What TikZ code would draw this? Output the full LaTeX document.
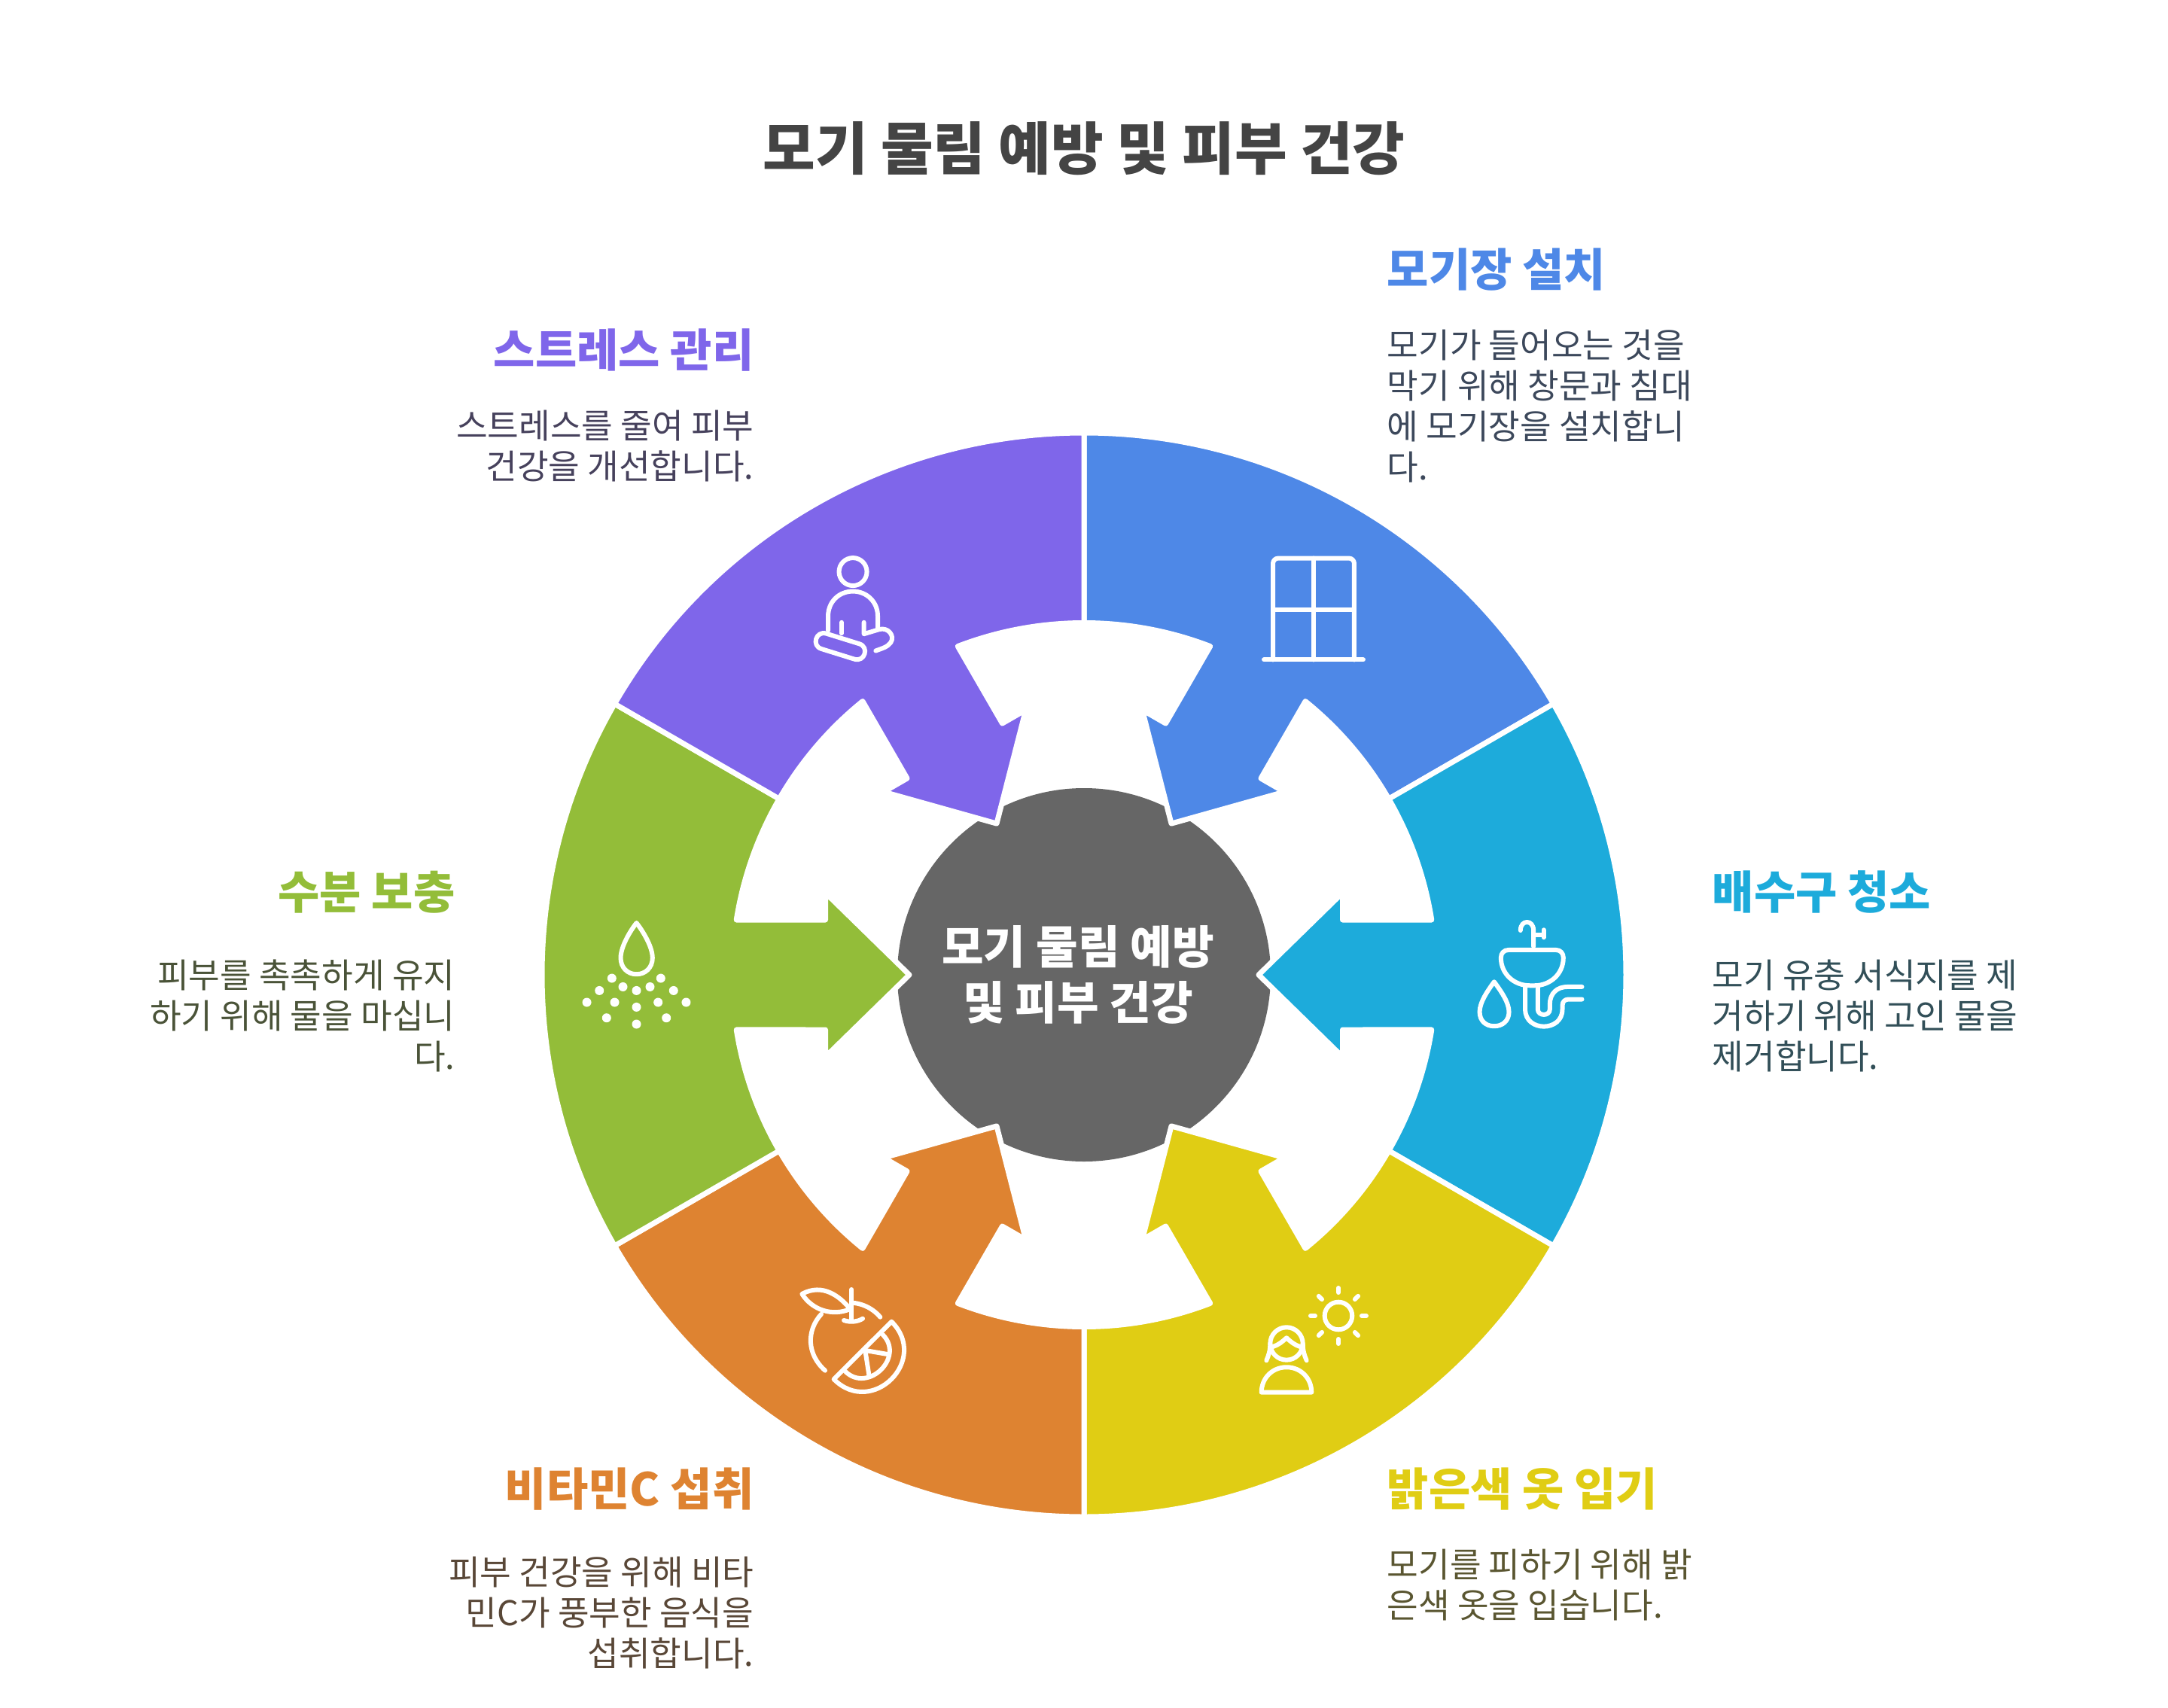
\documentclass[tikz,border=0pt]{standalone}
\usepackage{fontspec}
\setmainfont{Noto Sans CJK KR}
\usetikzlibrary{positioning}
\definecolor{cblue}{HTML}{4E88E7}
\definecolor{ccyan}{HTML}{1DABDB}
\definecolor{cyellow}{HTML}{E0CD14}
\definecolor{corange}{HTML}{DE8331}
\definecolor{cgreen}{HTML}{93BD39}
\definecolor{cpurple}{HTML}{7F66EA}
\definecolor{ctitle}{HTML}{444444}
\definecolor{chub}{HTML}{666666}
\definecolor{ctext}{HTML}{383838}
\tikzstyle{ringpart}=[draw=white,line width=0.07cm,line join=round]
\tikzstyle{icon}=[draw=white,line width=0.06cm,line cap=round,line join=round]
\tikzstyle{head}=[font=\fontsize{17.1pt}{20pt}\selectfont\bfseries,inner sep=0pt]
\tikzstyle{desc}=[font=\fontsize{12.88pt}{15.36pt}\selectfont,inner sep=0pt]
\newcommand{\ringarrow}[2]{
  \draw[ringpart,fill=#2,rotate=#1] (30:7.2) arc[start angle=30,end angle=-30,radius=7.2]
    -- (-30:4.675) arc[start angle=-30,end angle=-8.98,radius=4.675]
    -- (3.435,-0.73) -- (3.435,-1.09) -- (2.32,0) -- (3.435,1.09) -- (3.435,0.73)
    -- (8.98:4.675) arc[start angle=8.98,end angle=30,radius=4.675] -- cycle;
}
\begin{document}
\begin{tikzpicture}
  \useasboundingbox (0,0) rectangle (28.80,-22.69);
  \node (title) [font=\fontsize{21.55pt}{25pt}\selectfont\bfseries,text=ctitle] at (14.40,-1.97) {모기 물림 예방 및 피부 건강};

  \coordinate (c) at (14.40,-12.95);
  \node (hub) [circle,fill=chub,minimum size=4.96cm,inner sep=0pt] at (c) {};
  \begin{scope}[shift={(c)}]
    \ringarrow{60}{cblue}
    \ringarrow{0}{ccyan}
    \ringarrow{-60}{cyellow}
    \ringarrow{-120}{corange}
    \ringarrow{180}{cgreen}
    \ringarrow{120}{cpurple}
  \end{scope}
  \node (hublabel) [font=\fontsize{17.2pt}{21.2pt}\selectfont\bfseries,text=white,align=center] at (14.32,-12.95) {모기 물림 예방\\및 피부 건강};

  % labels
  \node (h1) [head,text=cblue,anchor=west] at (18.42,-3.58) {모기장 설치};
  \node (d1) [desc,text=cblue!20!ctext,align=left,below=0.5cm of h1.south west,anchor=north west] {모기가 들어오는 것을\\막기 위해 창문과 침대\\에 모기장을 설치합니\\다.};
  \node (h2) [head,text=ccyan,anchor=west] at (22.74,-11.85) {배수구 청소};
  \node (d2) [desc,text=ccyan!20!ctext,align=left,below=0.6cm of h2.south west,anchor=north west] {모기 유충 서식지를 제\\거하기 위해 고인 물을\\제거합니다.};
  \node (h3) [head,text=cyellow,anchor=west] at (18.42,-19.78) {밝은색 옷 입기};
  \node (d3) [desc,text=cyellow!20!ctext,align=left,below=0.5cm of h3.south west,anchor=north west] {모기를 피하기 위해 밝\\은색 옷을 입습니다.};
  \node (h4) [head,text=corange,anchor=east] at (10.02,-19.78) {비타민C 섭취};
  \node (d4) [desc,text=corange!20!ctext,align=right,below=0.6cm of h4.south east,anchor=north east] {피부 건강을 위해 비타\\민C가 풍부한 음식을\\섭취합니다.};
  \node (h5) [head,text=cgreen,anchor=east] at (6.05,-11.85) {수분 보충};
  \node (d5) [desc,text=cgreen!20!ctext,align=right,below=0.6cm of h5.south east,anchor=north east] {피부를 촉촉하게 유지\\하기 위해 물을 마십니\\다.};
  \node (h6) [head,text=cpurple,anchor=east] at (10.02,-4.65) {스트레스 관리};
  \node (d6) [desc,text=cpurple!20!ctext,align=right,below=0.5cm of h6.south east,anchor=north east] {스트레스를 줄여 피부\\건강을 개선합니다.};

  % icons
  \begin{scope}[x=0.01cm,y=-0.01cm]
    % window
    \draw[icon,rounded corners=0.07cm] (1692,877) -- (1692,742) -- (1800,742) -- (1800,877);
    \draw[icon] (1680,877) -- (1812,877);
    \draw[icon] (1746,742) -- (1746,877);
    \draw[icon] (1692,810) -- (1800,810);
    % person
    \draw[icon] (1133.7,760) circle [radius=0.185cm];
    \draw[icon] (1100.7,838) -- (1100.7,819) .. controls (1100.7,800) and (1115,786) .. (1133.7,786)
      .. controls (1152,786) and (1166.7,800) .. (1166.7,819) -- (1166.7,836);
    \draw[icon] (1098.2,842.1) -- (1142.2,855.8) .. controls (1155.8,860) and (1149.4,880.4) .. (1135.8,876.2)
      -- (1091.8,862.5) .. controls (1078.2,858.3) and (1084.6,837.9) .. (1098.2,842.1) -- cycle;
    \draw[icon] (1118.7,827.3) -- (1118.7,841.7);
    \draw[icon] (1148.3,827.3) -- (1148.3,842.7) -- (1168.3,836.7) .. controls (1180,833) and (1190,845) .. (1184,854)
      .. controls (1180,860) and (1172,862) .. (1164,865);
    % sink
    \draw[icon] (2038.3,1258) -- (2038.3,1236.7) .. controls (2038.3,1222) and (2021,1222) .. (2021,1236.7);
    \draw[icon] (2038.3,1243) -- (2051.7,1243);
    \draw[icon] (2051.7,1236) -- (2051.7,1246);
    \draw[icon] (2005,1262.7) -- (2068.3,1262.7) .. controls (2074,1262.7) and (2078,1267) .. (2078,1273)
      .. controls (2078,1295) and (2060,1310) .. (2040,1310) -- (2033,1310)
      .. controls (2013,1310) and (1995,1295) .. (1995,1273) .. controls (1995,1267) and (1999,1262.7) .. (2005,1262.7) -- cycle;
    \draw[icon] (2027.3,1311.7) -- (2027.3,1341.7) .. controls (2027.3,1372) and (2076.7,1372) .. (2076.7,1341.7)
      -- (2076.7,1337) .. controls (2076.7,1331) and (2080,1328.3) .. (2085,1328.3) -- (2102.7,1328.3);
    \draw[icon] (2044,1311.7) -- (2044,1341.7) .. controls (2044,1351) and (2060,1351) .. (2060,1341.7)
      -- (2060,1335) .. controls (2060,1320) and (2070,1311.7) .. (2083.3,1311.7) -- (2102.7,1311.7);
    \draw[icon] (1986,1305) .. controls (1978,1316) and (1966.7,1332) .. (1966.7,1345)
      .. controls (1966.7,1357) and (1975,1364) .. (1986,1364) .. controls (1997,1364) and (2005.7,1357) .. (2005.7,1345)
      .. controls (2005.7,1332) and (1994,1316) .. (1986,1305) -- cycle;
    % droplet with dots
    \draw[icon] (846,1226.7) .. controls (838,1237) and (825,1258) .. (825,1273.3)
      .. controls (825,1286) and (834,1295) .. (846,1295) .. controls (858,1295) and (867.3,1286) .. (867.3,1273.3)
      .. controls (867.3,1258) and (854,1237) .. (846,1226.7) -- cycle;
    \foreach \px/\py in {813.3/1300.3,878.3/1300.3,796.7/1316.7,828/1311.7,846/1316.7,864/1311.7,895.3/1316.7,780/1332.3,817/1332.3,874.7/1332.3,912/1332.3,846/1338.7,806.3/1353,885.7/1353,846/1361.3}
      \fill[white] (\px,\py) circle [radius=0.06cm];
    % sun
    \draw[icon] (1779,1749) circle [radius=0.183cm];
    \foreach \a in {0,45,...,315}
      \draw[icon,shift={(1779,1749)}] (\a:31) -- (\a:37);
    % woman
    \draw[icon] (1710,1786) circle [radius=0.217cm];
    \draw[icon] (1692,1790) .. controls (1699,1788) and (1705,1783) .. (1710,1778.3)
      .. controls (1715,1783) and (1721,1788) .. (1728,1790);
    \draw[icon] (1688.3,1786) .. controls (1688.3,1796) and (1686,1802) .. (1683.3,1808.3);
    \draw[icon] (1731.7,1786) .. controls (1731.7,1796) and (1734,1802) .. (1736.7,1808.3);
    \draw[icon] (1676.7,1850.7) .. controls (1676.7,1832) and (1691,1817.3) .. (1710,1817.3)
      .. controls (1729,1817.3) and (1743.3,1832) .. (1743.3,1850.7) -- cycle;
    % orange
    \draw[icon] (1132,1714) -- (1132,1755);
    \draw[icon] (1121.7,1755) .. controls (1130,1758) and (1140,1757) .. (1146.7,1752.7);
    \draw[icon] (1066,1720) .. controls (1093.3,1705) and (1116.7,1723.3) .. (1130,1740)
      .. controls (1106.7,1750) and (1080,1741.7) .. (1066,1720) -- cycle;
    \draw[icon] (1091.7,1746.7) .. controls (1072,1768) and (1072,1800) .. (1096.7,1821.7);
    \draw[icon] (1133.3,1731.7) .. controls (1148,1733) and (1161,1740) .. (1170,1750.7);
    \draw[icon] (1108.3,1833.3) -- (1185,1756.7) .. controls (1236,1807.6) and (1159.2,1884.2) .. (1108.3,1833.3) -- cycle;
    \draw[icon] (1173.3,1774) .. controls (1203.3,1804) and (1153.3,1852.7) .. (1123.3,1822.7);
    \draw[icon] (1150,1795) -- (1179.3,1800);
    \draw[icon] (1150,1795) -- (1155,1827.3);
  \end{scope}
\end{tikzpicture}
\end{document}
